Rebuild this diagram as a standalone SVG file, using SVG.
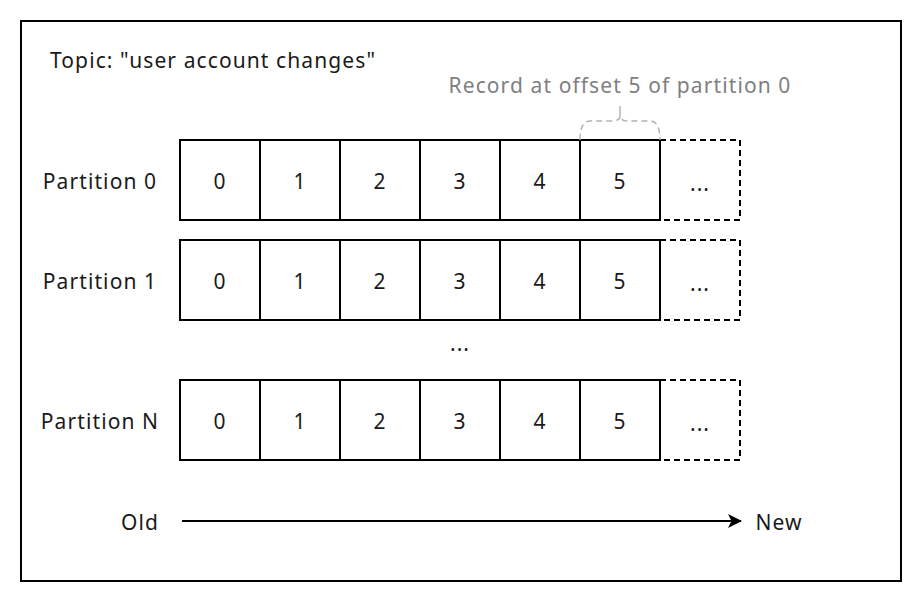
<svg xmlns="http://www.w3.org/2000/svg" width="922" height="602" viewBox="0 0 922 602">
<defs>
<style>
text{font-family:"Noto Sans","Open Sans",sans-serif;font-size:21px;letter-spacing:1.1px;fill:#1a1a1a}
.c{text-anchor:middle;dominant-baseline:central}
.cell{fill:#fff;stroke:#000;stroke-width:2}
.dash{fill:none;stroke:#000;stroke-width:2;stroke-dasharray:6 4}
.gray{fill:#808080}
</style>
<marker id="ah" viewBox="0 0 14 14" refX="13" refY="7" markerWidth="14" markerHeight="14" markerUnits="userSpaceOnUse" orient="auto">
<path d="M0,0 L14,7 L0,14 L3.5,7 Z" fill="#000"/>
</marker>
</defs>
<rect x="21" y="21" width="880" height="560" fill="#fff" stroke="#000" stroke-width="2"/>
<text x="50" y="68">Topic: "user account changes"</text>
<text class="c gray" x="620" y="85">Record at offset 5 of partition 0</text>
<g id="p0">
<text class="c" x="100" y="181">Partition 0</text>
<rect class="cell" x="180" y="140" width="80" height="80"/><text class="c" x="220" y="181">0</text>
<rect class="cell" x="260" y="140" width="80" height="80"/><text class="c" x="300" y="181">1</text>
<rect class="cell" x="340" y="140" width="80" height="80"/><text class="c" x="380" y="181">2</text>
<rect class="cell" x="420" y="140" width="80" height="80"/><text class="c" x="460" y="181">3</text>
<rect class="cell" x="500" y="140" width="80" height="80"/><text class="c" x="540" y="181">4</text>
<rect class="cell" x="580" y="140" width="80" height="80"/><text class="c" x="620" y="181">5</text>
<rect class="dash" x="660" y="140" width="80" height="80"/><text class="c" x="700" y="183">...</text>
</g>
<g id="p1">
<text class="c" x="100" y="281">Partition 1</text>
<rect class="cell" x="180" y="240" width="80" height="80"/><text class="c" x="220" y="281">0</text>
<rect class="cell" x="260" y="240" width="80" height="80"/><text class="c" x="300" y="281">1</text>
<rect class="cell" x="340" y="240" width="80" height="80"/><text class="c" x="380" y="281">2</text>
<rect class="cell" x="420" y="240" width="80" height="80"/><text class="c" x="460" y="281">3</text>
<rect class="cell" x="500" y="240" width="80" height="80"/><text class="c" x="540" y="281">4</text>
<rect class="cell" x="580" y="240" width="80" height="80"/><text class="c" x="620" y="281">5</text>
<rect class="dash" x="660" y="240" width="80" height="80"/><text class="c" x="700" y="283">...</text>
</g>
<text class="c" x="460" y="343">...</text>
<g id="pN">
<text class="c" x="100" y="421">Partition N</text>
<rect class="cell" x="180" y="380" width="80" height="80"/><text class="c" x="220" y="421">0</text>
<rect class="cell" x="260" y="380" width="80" height="80"/><text class="c" x="300" y="421">1</text>
<rect class="cell" x="340" y="380" width="80" height="80"/><text class="c" x="380" y="421">2</text>
<rect class="cell" x="420" y="380" width="80" height="80"/><text class="c" x="460" y="421">3</text>
<rect class="cell" x="500" y="380" width="80" height="80"/><text class="c" x="540" y="421">4</text>
<rect class="cell" x="580" y="380" width="80" height="80"/><text class="c" x="620" y="421">5</text>
<rect class="dash" x="660" y="380" width="80" height="80"/><text class="c" x="700" y="423">...</text>
</g>
<g id="connectors">
<path d="M580,140 Q580,121 590,121 L612,121 Q620,121 620,116 Q620,121 628,121 L650,121 Q660,121 660,140" fill="none" stroke="#b3b3b3" stroke-width="1.5" stroke-dasharray="6 4"/>
<line x1="620" y1="116" x2="620" y2="106" stroke="#b3b3b3" stroke-width="1.5"/>
<line x1="182" y1="521" x2="741" y2="521" stroke="#000" stroke-width="2" marker-end="url(#ah)"/>
</g>
<text class="c" x="140" y="522">Old</text>
<text class="c" x="779" y="522">New</text>
</svg>
